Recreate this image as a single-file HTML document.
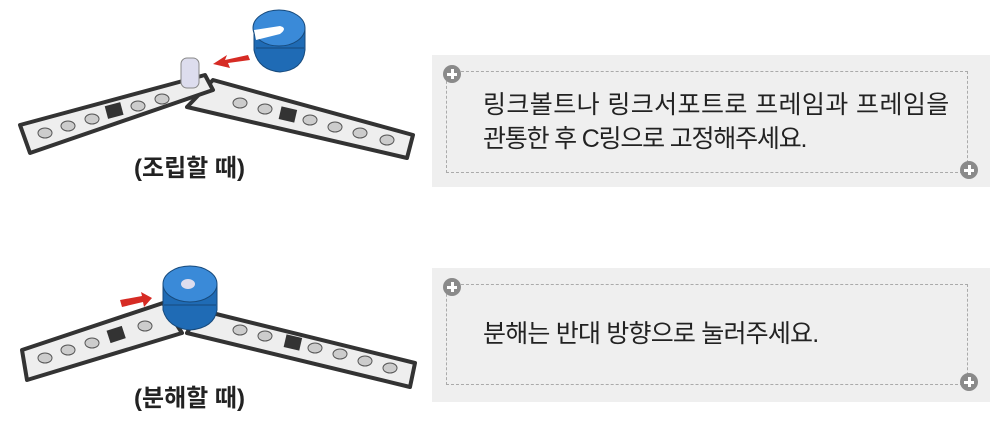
<!DOCTYPE html>
<html><head><meta charset="utf-8"><style>
html,body{margin:0;padding:0;background:#fff;}
body{width:1006px;height:427px;position:relative;overflow:hidden;font-family:"Liberation Sans","Noto Sans CJK KR",sans-serif;}
.box{position:absolute;left:432px;width:558px;background:#efefef;}
.dash{position:absolute;border:1.5px dashed #aaa;}
.plus{position:absolute;width:18px;height:18px;border-radius:50%;background:#8a8a8a;}
.plus:before,.plus:after{content:"";position:absolute;background:#fff;}
.plus:before{left:4px;top:7.5px;width:10px;height:3px;}
.plus:after{left:7.5px;top:4px;width:3px;height:10px;}
.txt{position:absolute;left:483px;font-size:25px;color:#222;line-height:34px;letter-spacing:0.4px;}
.cap{position:absolute;left:134px;font-size:24px;font-weight:bold;color:#222;}
</style></head><body>
<div class="box" style="top:55px;height:132px;"></div>
<div class="dash" style="left:446px;top:71px;width:520px;height:100px;"></div>
<div class="plus" style="left:443px;top:65px;"></div>
<div class="plus" style="left:960px;top:161px;"></div>
<div class="txt" style="top:88px;">링크볼트나 링크서포트로 프레임과 프레임을<br><span style="letter-spacing:-1.2px">관통한 후 C링으로 고정해주세요.</span></div>

<div class="box" style="top:268px;height:134px;"></div>
<div class="dash" style="left:446px;top:284px;width:520px;height:99px;"></div>
<div class="plus" style="left:443px;top:278px;"></div>
<div class="plus" style="left:960px;top:373px;"></div>
<div class="txt" style="top:317px;letter-spacing:-0.8px;">분해는 반대 방향으로 눌러주세요.</div>

<svg width="430" height="427" style="position:absolute;left:0;top:0">
<g stroke="#333" stroke-width="4" stroke-linejoin="round">
<polygon points="187,107 213,80 413,135 407,158" fill="#eee"/>
<polygon points="20,125 205,75 213,90 30,153" fill="#eee"/>
<polygon points="187,333 200,310 415,363 410,387" fill="#eee"/>
<polygon points="22,350 163,303 182,333 27,380" fill="#eee"/>
</g>
<g fill="#ccc" stroke="#555" stroke-width="1">
<ellipse cx="45" cy="133" rx="7" ry="5"/><ellipse cx="68" cy="126" rx="7" ry="5"/><ellipse cx="92" cy="119" rx="7" ry="5"/><ellipse cx="138" cy="106" rx="7" ry="5"/><ellipse cx="162" cy="99" rx="7" ry="5"/>
<ellipse cx="240" cy="103" rx="7" ry="5"/><ellipse cx="265" cy="109" rx="7" ry="5"/><ellipse cx="310" cy="120" rx="7" ry="5"/><ellipse cx="335" cy="127" rx="7" ry="5"/><ellipse cx="360" cy="133" rx="7" ry="5"/><ellipse cx="387" cy="140" rx="7" ry="5"/>
<ellipse cx="45" cy="358" rx="7" ry="5"/><ellipse cx="68" cy="350" rx="7" ry="5"/><ellipse cx="92" cy="343" rx="7" ry="5"/><ellipse cx="145" cy="326" rx="7" ry="5"/>
<ellipse cx="240" cy="330" rx="7" ry="5"/><ellipse cx="265" cy="336" rx="7" ry="5"/><ellipse cx="315" cy="348" rx="7" ry="5"/><ellipse cx="340" cy="354" rx="7" ry="5"/><ellipse cx="365" cy="361" rx="7" ry="5"/><ellipse cx="390" cy="368" rx="7" ry="5"/>
</g>
<rect x="106" y="104" width="16" height="13" fill="#333" transform="rotate(-15 114 110)"/>
<rect x="280" y="108" width="16" height="13" fill="#333" transform="rotate(13 288 114)"/>
<rect x="108" y="328" width="16" height="13" fill="#333" transform="rotate(-18 116 334)"/>
<rect x="285" y="336" width="16" height="13" fill="#333" transform="rotate(13 293 342)"/>
<rect x="181" y="58" width="18" height="30" rx="6" fill="#dde" stroke="#888"/>
<path d="M254,28 L254,50 Q258,70 280,72 Q303,70 305,50 L305,28 Z" fill="#1f6bb5" stroke="#174a7c"/>
<ellipse cx="279" cy="28" rx="26" ry="18" fill="#3a8ad8" stroke="#174a7c"/>
<path d="M254,30 L280,26 Q288,28 280,34 L256,40 Z" fill="#fff"/>
<line x1="256" y1="48" x2="304" y2="48" stroke="#174a7c"/>
<polygon points="248,55 225,60 227,55 213,64 230,68 228,63 250,60" fill="#d62b24"/>
<path d="M163,285 L163,310 Q168,328 190,330 Q214,328 217,310 L217,285 Z" fill="#1f6bb5" stroke="#174a7c"/>
<ellipse cx="190" cy="284" rx="27" ry="18" fill="#3a8ad8" stroke="#174a7c"/>
<ellipse cx="188" cy="284" rx="7" ry="5" fill="#dde"/>
<line x1="164" y1="305" x2="216" y2="305" stroke="#174a7c"/>
<polygon points="120,300 142,296 141,292 152,298 144,307 143,302 122,307" fill="#d62b24"/>
</svg>
<div class="cap" style="top:148px;">(조립할 때)</div>
<div class="cap" style="top:378px;">(분해할 때)</div>
</body></html>
